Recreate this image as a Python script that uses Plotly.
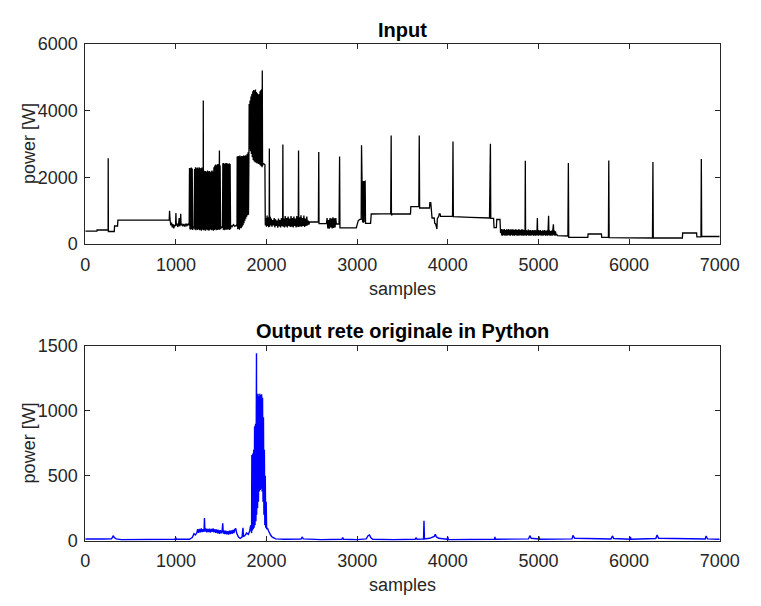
import plotly.graph_objects as go

# ---------------- data (sample index, power W) ----------------
x_ticks = [0, 1000, 2000, 3000, 4000, 5000, 6000, 7000]
y_ticks_input = [0, 2000, 4000, 6000]
y_ticks_output = [0, 500, 1000, 1500]

title_input = "Input"
title_output = "Output rete originale in Python"
x_label = "samples"
y_label = "power [W]"

input_start = [(0, 385), (128, 385), (130, 420), (252, 420), (253, 2570), (255, 375), (320, 375),
               (323, 540), (356, 540), (360, 716), (926, 716), (930, 995), (936, 720), (944, 560),
               (952, 640), (960, 500), (968, 600), (976, 470), (986, 570), (996, 540), (1000, 930),
               (1004, 560), (1012, 620), (1020, 510), (1030, 600), (1036, 780), (1040, 530),
               (1048, 590), (1053, 910), (1057, 560), (1066, 610), (1076, 530), (1088, 600),
               (1098, 520), (1110, 610), (1122, 550), (1134, 600), (1146, 560)]

input_burst_a = [(1150, 2280), (1155, 440), (1160, 2270), (1165, 430), (1170, 2290), (1175, 450),
                 (1180, 2260), (1185, 420), (1190, 520), (1196, 470), (1202, 540), (1206, 2250),
                 (1211, 430), (1216, 2300), (1221, 410), (1226, 2270), (1231, 440), (1236, 2290),
                 (1241, 420), (1246, 2260), (1251, 450), (1256, 2300), (1261, 410), (1266, 2280),
                 (1271, 430), (1276, 2260), (1281, 400), (1286, 2290), (1291, 440), (1296, 2250),
                 (1300, 420), (1302, 4300), (1304, 410), (1309, 2200), (1314, 430), (1319, 2180),
                 (1324, 400), (1329, 2190), (1334, 440), (1339, 2160), (1344, 410), (1349, 2200),
                 (1354, 430), (1359, 2170), (1364, 400), (1369, 2190), (1374, 420), (1379, 2150),
                 (1384, 440), (1389, 2180), (1394, 410), (1399, 2200), (1404, 430), (1409, 2170),
                 (1414, 400), (1419, 2300), (1424, 420), (1429, 2350), (1434, 440), (1439, 2380),
                 (1444, 410), (1449, 2360), (1454, 430), (1459, 2390), (1464, 420), (1469, 2400),
                 (1474, 440), (1478, 2380), (1480, 2800), (1483, 430), (1488, 2350), (1493, 450),
                 (1500, 520), (1508, 480), (1514, 560), (1518, 2420), (1523, 430), (1528, 2430),
                 (1533, 410), (1538, 2400), (1543, 440), (1548, 2420), (1553, 420), (1558, 2430),
                 (1563, 450), (1568, 2410), (1573, 430), (1578, 2400), (1583, 440), (1588, 2420),
                 (1593, 420), (1598, 2400), (1603, 450), (1607, 560), (1620, 520), (1635, 580),
                 (1650, 530), (1665, 560), (1674, 540)]

input_burst_b = [(1676, 2620), (1681, 440), (1686, 2640), (1691, 460), (1696, 2630), (1701, 430),
                 (1706, 2650), (1711, 480), (1716, 2620), (1721, 470), (1726, 2640), (1731, 520),
                 (1736, 2630), (1741, 560), (1746, 2650), (1751, 620), (1756, 2640), (1761, 700),
                 (1766, 2660), (1771, 760), (1776, 2650), (1781, 820), (1786, 2700), (1791, 860),
                 (1796, 2750), (1801, 880), (1806, 2800),
                 (1808, 4200), (1813, 2850), (1818, 4300), (1823, 2780), (1828, 4420), (1833, 2700),
                 (1838, 4500), (1843, 2600), (1848, 4580), (1853, 2520), (1858, 4620), (1863, 2480),
                 (1868, 4600), (1873, 2450), (1878, 4630), (1883, 2440), (1888, 4560), (1893, 2420),
                 (1898, 4520), (1903, 2410), (1908, 4480), (1913, 2400), (1918, 4500), (1923, 2380),
                 (1928, 4580), (1933, 2350), (1938, 4620), (1943, 2330), (1948, 4650), (1951, 2300),
                 (1953, 5200), (1956, 2350), (1962, 2420), (1975, 2400), (1982, 2380), (1986, 600)]

input_mid = [(1988, 560), (1995, 780), (2000, 520), (2006, 850), (2012, 540), (2018, 800), (2024, 500),
             (2029, 760), (2031, 2860), (2034, 520), (2040, 820), (2047, 560), (2053, 760), (2060, 520),
             (2068, 720), (2076, 560), (2084, 780), (2092, 500), (2100, 740), (2108, 540), (2116, 700),
             (2124, 490), (2132, 760), (2140, 530), (2148, 720), (2156, 500), (2164, 780), (2172, 540),
             (2178, 700), (2180, 2980), (2183, 520), (2190, 760), (2198, 500), (2206, 840), (2214, 530),
             (2222, 780), (2230, 500), (2238, 820), (2246, 540), (2254, 760), (2262, 510), (2270, 840),
             (2278, 520), (2286, 780), (2294, 500), (2302, 820), (2310, 540), (2318, 760), (2326, 500),
             (2334, 840), (2342, 520), (2350, 720), (2353, 2800), (2356, 510), (2364, 800), (2372, 530),
             (2380, 860), (2388, 520), (2396, 780), (2404, 540), (2412, 850), (2420, 510), (2428, 760),
             (2436, 540), (2444, 820), (2452, 560), (2460, 700), (2468, 580), (2475, 660), (2572, 660),
             (2576, 2760), (2579, 610), (2660, 610), (2668, 780), (2676, 470), (2684, 720), (2692, 460),
             (2700, 780), (2708, 500), (2716, 760), (2724, 470), (2732, 800), (2740, 480), (2748, 770),
             (2756, 500), (2764, 780), (2770, 600), (2800, 600), (2806, 2620), (2810, 485), (2990, 485),
             (3000, 560), (3012, 700), (3030, 740), (3044, 740), (3048, 2960), (3052, 700), (3056, 1900),
             (3060, 650), (3064, 1880), (3068, 640), (3072, 1890), (3076, 650), (3080, 1870), (3084, 640),
             (3088, 1880), (3092, 620), (3148, 620), (3155, 900), (3370, 910), (3375, 3250), (3378, 860),
             (3390, 900), (3588, 900), (3592, 1120), (3680, 1120), (3685, 3250), (3689, 1080),
             (3798, 1080), (3802, 1240), (3812, 1240), (3816, 1050), (3826, 780), (3850, 780),
             (3856, 620), (3866, 600), (3872, 450), (3880, 450), (3884, 760), (3900, 830), (3905, 900),
             (3915, 900), (3920, 830), (4052, 830), (4057, 3075), (4061, 820), (4250, 800), (4460, 780),
             (4470, 3005), (4474, 770), (4505, 770), (4510, 490), (4536, 490), (4540, 735), (4576, 735),
             (4582, 330)]

input_burst_d = [(4588, 450), (4594, 260), (4600, 440), (4606, 250), (4612, 430), (4618, 270), (4624, 450),
                 (4630, 250), (4636, 420), (4642, 260), (4648, 440), (4654, 250), (4660, 430), (4666, 270),
                 (4672, 450), (4678, 260), (4684, 420), (4690, 250), (4696, 440), (4702, 270), (4708, 430),
                 (4714, 250), (4720, 440), (4726, 260), (4732, 420), (4738, 250), (4744, 440), (4750, 270),
                 (4756, 430), (4762, 250), (4768, 420), (4774, 260), (4780, 440), (4786, 250), (4792, 430),
                 (4798, 270), (4804, 420), (4810, 250), (4816, 440), (4822, 260), (4828, 430), (4834, 250),
                 (4840, 420), (4846, 260), (4852, 400), (4855, 2495), (4858, 260), (4864, 420), (4870, 250),
                 (4876, 400), (4882, 270), (4888, 430), (4894, 250), (4900, 410), (4906, 260), (4912, 420),
                 (4918, 250), (4924, 400), (4930, 270), (4936, 420), (4942, 250), (4948, 400), (4954, 260),
                 (4960, 420), (4966, 250), (4972, 410), (4978, 260), (4984, 400), (4988, 780), (4992, 260),
                 (4998, 420), (5004, 250), (5010, 400), (5016, 270), (5022, 420), (5028, 250), (5034, 390),
                 (5040, 260), (5046, 410), (5052, 250), (5058, 400), (5064, 270), (5070, 420), (5076, 250),
                 (5082, 390), (5088, 260), (5094, 410), (5100, 250), (5106, 400), (5112, 850), (5116, 260),
                 (5122, 410), (5128, 250), (5134, 390), (5140, 260), (5146, 400), (5152, 250), (5158, 410),
                 (5165, 590), (5170, 260), (5176, 400), (5182, 250), (5188, 380), (5194, 260), (5200, 300)]

input_end = [(5210, 250), (5325, 240), (5330, 2430), (5334, 200), (5545, 200), (5548, 300), (5695, 300),
             (5698, 200), (5772, 200), (5776, 2500), (5780, 190), (6000, 185), (6258, 180), (6263, 2455),
             (6267, 180), (6588, 180), (6591, 330), (6745, 330), (6748, 215), (6793, 215), (6797, 2550),
             (6801, 225), (7000, 225)]

output_low = [(0, 15), (100, 12), (200, 14), (290, 15), (300, 30), (310, 40), (320, 25), (340, 15),
              (400, 10), (600, 12), (800, 10), (990, 12), (1000, 25), (1005, 12), (1150, 12), (1180, 25),
              (1200, 55), (1215, 45), (1230, 60), (1240, 90), (1250, 62), (1260, 92), (1270, 65),
              (1280, 95), (1290, 68), (1300, 90), (1310, 70), (1315, 175), (1320, 72), (1330, 95),
              (1340, 66), (1350, 92), (1360, 68), (1370, 94), (1380, 64), (1390, 92), (1400, 70),
              (1410, 95), (1420, 66), (1430, 90), (1440, 62), (1450, 88), (1460, 58), (1470, 85),
              (1480, 55), (1490, 82), (1500, 58), (1510, 80), (1517, 135), (1522, 55), (1530, 80),
              (1540, 52), (1550, 78), (1560, 50), (1570, 75), (1580, 48), (1590, 78), (1600, 52),
              (1610, 80), (1620, 55), (1630, 85), (1640, 60), (1650, 88), (1660, 95), (1670, 60),
              (1690, 30), (1710, 20), (1730, 30), (1740, 100), (1745, 35), (1760, 40), (1780, 60),
              (1800, 50), (1815, 80), (1825, 120), (1835, 60)]

output_peak = [(1836, 350), (1838, 660), (1843, 80), (1848, 670), (1853, 90), (1858, 700), (1863, 100),
               (1868, 880), (1873, 120), (1878, 900), (1883, 150), (1887, 1000), (1889, 1440),
               (1891, 200), (1896, 1120), (1901, 250), (1906, 1130), (1911, 300), (1916, 1110),
               (1921, 380), (1926, 1130), (1931, 390), (1936, 1120), (1941, 400), (1946, 1125),
               (1951, 380), (1956, 1100), (1961, 300), (1966, 950), (1971, 200), (1976, 700),
               (1981, 120), (1986, 500), (1991, 100), (1996, 300), (2001, 90)]

output_tail = [(2010, 100), (2020, 80), (2030, 60), (2045, 45), (2060, 30), (2080, 20), (2100, 15),
               (2200, 12), (2380, 14), (2395, 30), (2405, 15), (2600, 10), (2830, 12), (2840, 25),
               (2850, 12), (3000, 10), (3100, 15), (3120, 40), (3135, 45), (3150, 25), (3170, 12),
               (3400, 10), (3640, 12), (3650, 25), (3660, 12), (3732, 15), (3737, 155), (3742, 15),
               (3800, 20), (3850, 35), (3862, 50), (3875, 30), (3900, 20), (3990, 12), (4000, 30),
               (4005, 10), (4200, 10), (4515, 12), (4520, 30), (4525, 12), (4890, 15), (4905, 40),
               (4920, 20), (5000, 15), (5005, 35), (5010, 12), (5370, 15), (5381, 42), (5400, 20),
               (5800, 15), (5818, 38), (5830, 18), (6010, 12), (6015, 30), (6020, 12), (6295, 18),
               (6309, 45), (6325, 20), (6840, 15), (6850, 38), (6865, 15), (7000, 12)]

input_pts = input_start + input_burst_a + input_burst_b + input_mid + input_burst_d + input_end
output_pts = output_low + output_peak + output_tail
in_x = [p[0] for p in input_pts]
in_y = [p[1] for p in input_pts]
out_x = [p[0] for p in output_pts]
out_y = [p[1] for p in output_pts]

# ---------------- figure ----------------
W, H = 761, 606
FONT = "Liberation Sans, Arial, sans-serif"
AX = "#262626"

def px_x(p):
    return p / W

def px_y(p):
    return (H - p) / H

fig = go.Figure()
fig.add_trace(go.Scatter(x=in_x, y=in_y, mode="lines", line=dict(color="black", width=1.3),
                         xaxis="x", yaxis="y", showlegend=False, hoverinfo="skip"))
fig.add_trace(go.Scatter(x=out_x, y=out_y, mode="lines", line=dict(color="#0000ff", width=1.4),
                         xaxis="x2", yaxis="y2", showlegend=False, hoverinfo="skip"))

common = dict(showline=True, mirror="ticks", linecolor=AX, linewidth=1, ticks="inside", ticklen=5,
              tickcolor=AX, tickwidth=1, showgrid=False, zeroline=False,
              tickfont=dict(family=FONT, size=18, color=AX))

xdom = [px_x(83), px_x(739)]
fig.update_layout(
    width=W, height=H, margin=dict(l=0, r=0, t=0, b=0),
    paper_bgcolor="white", plot_bgcolor="white",
    xaxis=dict(domain=xdom, range=[0, 7000], tickvals=x_ticks, anchor="y", ticklabelstandoff=4, **common),
    yaxis=dict(domain=[px_y(242), px_y(35)], range=[0, 6000], tickvals=y_ticks_input, anchor="x",
               ticklabelstandoff=3, **common),
    xaxis2=dict(domain=xdom, range=[0, 7000], tickvals=x_ticks, anchor="y2", ticklabelstandoff=4, **common),
    yaxis2=dict(domain=[px_y(549), px_y(347)], range=[0, 1500], tickvals=y_ticks_output, anchor="x2",
                ticklabelstandoff=3, **common),
)

cx = px_x(411)
ann = [
    dict(text="<b>%s</b>" % title_input, x=cx, y=px_y(21), size=20, color="black"),
    dict(text="<b>%s</b>" % title_output, x=cx, y=px_y(332), size=20, color="black"),
    dict(text=x_label, x=cx, y=px_y(289), size=18, color=AX),
    dict(text=x_label, x=cx, y=px_y(595), size=18, color=AX),
]
for a in ann:
    fig.add_annotation(text=a["text"], x=a["x"], y=a["y"], xref="paper", yref="paper",
                       xanchor="center", yanchor="middle", showarrow=False,
                       font=dict(family=FONT, size=a["size"], color=a["color"]))
for yc in (138.5, 448):
    fig.add_annotation(text=y_label, x=px_x(25), y=px_y(yc), xref="paper", yref="paper",
                       xanchor="center", yanchor="middle", showarrow=False, textangle=-90,
                       font=dict(family=FONT, size=18, color=AX))

fig.write_html("out.html")
